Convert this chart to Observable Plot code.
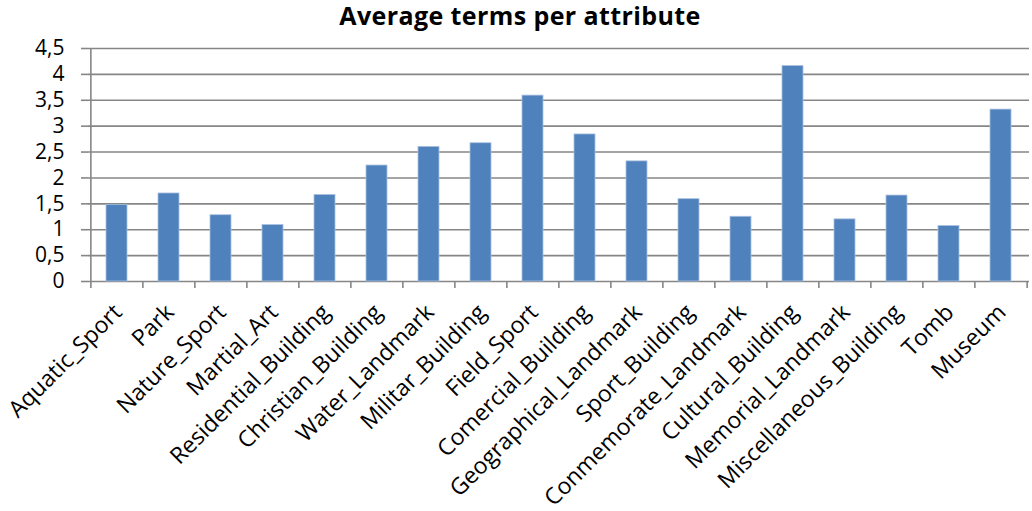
<!DOCTYPE html>
<html>
<head>
<meta charset="utf-8">
<script src="https://cdn.jsdelivr.net/npm/d3@7"></script>
<script src="https://cdn.jsdelivr.net/npm/@observablehq/plot@0.6"></script>
<style>
  html, body { margin: 0; padding: 0; background: #fff; }
  #chart { width: 1032px; }
  .title {
    height: 40px;
    font-family: "Open Sans", sans-serif;
    font-weight: bold;
    font-size: 25px;
    line-height: 30px;
    letter-spacing: 0.4px;
    text-align: center;
    color: #000;
    padding-left: 8px;
    box-sizing: border-box;
  }
</style>
</head>
<body>
<div id="chart"></div>
<script>
// Average number of terms per attribute
const attributes = [
  "Aquatic_Sport", "Park", "Nature_Sport", "Martial_Art", "Residential_Building",
  "Christian_Building", "Water_Landmark", "Militar_Building", "Field_Sport",
  "Comercial_Building", "Geographical_Landmark", "Sport_Building",
  "Conmemorate_Landmark", "Cultural_Building", "Memorial_Landmark",
  "Miscellaneous_Building", "Tomb", "Museum"
];
const averageTerms = [
  1.48, 1.70, 1.28, 1.09, 1.67,
  2.24, 2.60, 2.67, 3.59,
  2.84, 2.32, 1.59,
  1.25, 4.16, 1.20,
  1.66, 1.07, 3.32
];
const yTicks = [0, 0.5, 1, 1.5, 2, 2.5, 3, 3.5, 4, 4.5];
const titleText = "Average terms per attribute";

const rows = attributes.map((name, i) => ({name, value: averageTerms[i]}));

const width = 1032, height = 471;
const marginLeft = 88, marginRight = 3, marginTop = 8, marginBottom = 230;
const step = (width - marginLeft - marginRight) / attributes.length;
const gray = "#868686";
const comma = d => String(d).replace(".", ",");

const plot = Plot.plot({
  width, height, marginLeft, marginRight, marginTop, marginBottom,
  style: {fontFamily: "'Open Sans', sans-serif", fontSize: "21px", color: "#000", background: "#fff", overflow: "visible"},
  x: {domain: attributes, paddingInner: 0.6, paddingOuter: 0.3},
  y: {domain: [0, 4.5]},
  marks: [
    Plot.gridY(yTicks, {stroke: gray, strokeOpacity: 1, strokeWidth: 1.6}),
    // category boundary ticks below the baseline
    Plot.ruleX(attributes, {x: d => d, y1: 0, y2: 0, insetBottom: -7, dx: -step / 2, stroke: gray, strokeWidth: 1.6}),
    Plot.ruleX(attributes.slice(-1), {x: d => d, y1: 0, y2: 0, insetBottom: -7, dx: step / 2, stroke: gray, strokeWidth: 1.6}),
    // vertical value axis line
    Plot.ruleX(attributes.slice(0, 1), {x: d => d, y1: 0, y2: 4.5, dx: -step / 2, stroke: gray, strokeWidth: 1.6}),
    Plot.barY(rows, {x: "name", y: "value", fill: "#4f81bd", stroke: "#a9c0de", strokeWidth: 0.8}),
    Plot.axisY(yTicks, {
      tickSize: 7, tickPadding: 17, tickFormat: comma, fontSize: "21px",
      stroke: gray, strokeWidth: 1.6, strokeOpacity: 1, label: null
    }),
    Plot.axisX({
      tickSize: 0, tickPadding: 27, tickRotate: -45, dx: 1, label: null, fontSize: "23px"
    })
  ]
});

const title = document.createElement("div");
title.className = "title";
title.textContent = titleText;
const root = document.getElementById("chart");
root.appendChild(title);
root.appendChild(plot);
</script>
</body>
</html>
